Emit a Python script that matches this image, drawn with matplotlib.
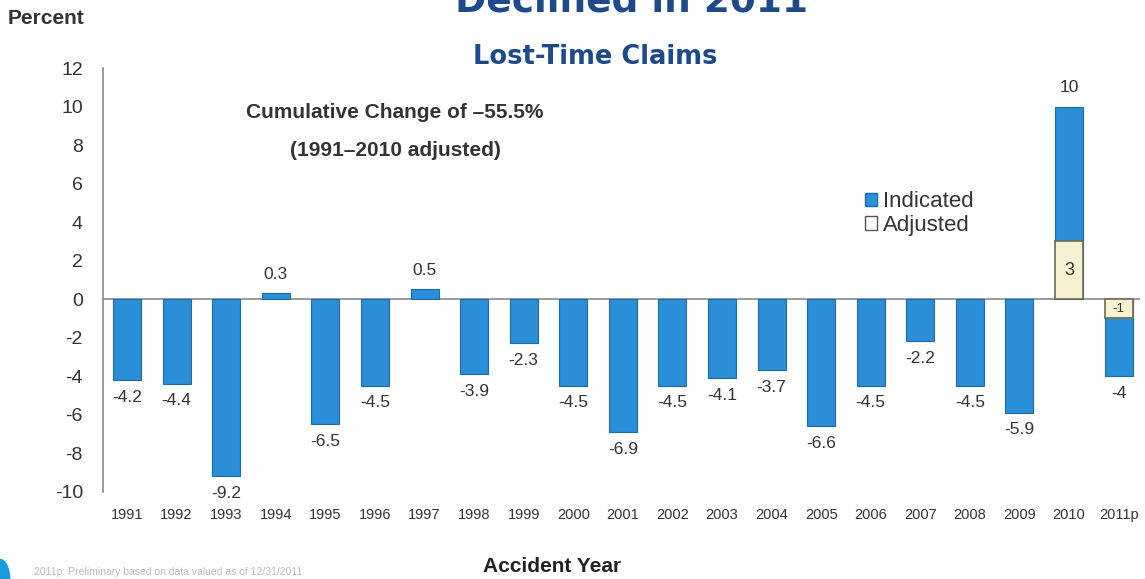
import numpy as np
import matplotlib.pyplot as plt
from matplotlib.patches import Patch, Ellipse

# data
years = ['1991', '1992', '1993', '1994', '1995', '1996', '1997', '1998', '1999', '2000',
         '2001', '2002', '2003', '2004', '2005', '2006', '2007', '2008', '2009', '2010', '2011p']
indicated = [-4.2, -4.4, -9.2, 0.3, -6.5, -4.5, 0.5, -3.9, -2.3, -4.5,
             -6.9, -4.5, -4.1, -3.7, -6.6, -4.5, -2.2, -4.5, -5.9, 10, -4]
adj_years = ['2010', '2011p']
adjusted = [3, -1]

blue = '#2a8fd6'
cream = '#f7f1cf'
navy = '#1f4a8a'
txt = '#333333'
arial = 'Liberation Sans'

fig = plt.figure(figsize=(11.45, 5.79), dpi=100)
ax = fig.add_axes([0.09, 0.151, 0.906, 0.7315])

x = np.arange(len(years))
ax.bar(x, indicated, width=0.565, color=blue, edgecolor='#1d6aa8', linewidth=0.8, zorder=2)
xa = [years.index(y) for y in adj_years]
ax.bar(xa, adjusted, width=0.565, color=cream, edgecolor='#6b6b5a', linewidth=1.2, zorder=3)

# value labels
for xi, v in zip(x, indicated):
    lab = '%g' % v
    if v >= 0:
        ax.annotate(lab, (xi, v), xytext=(0, 8), textcoords='offset points',
                    ha='center', va='bottom', fontsize=12.5, color=txt, family=arial)
    else:
        ax.annotate(lab, (xi, v), xytext=(0, -7), textcoords='offset points',
                    ha='center', va='top', fontsize=12.5, color=txt, family=arial)
for xi, v in zip(xa, adjusted):
    ax.text(xi, v / 2, '%g' % v, ha='center', va='center', fontsize=13 if v > 0 else 9.5,
            color=txt, zorder=4, family=arial)

ax.axhline(0, color='#8a8a8a', linewidth=1.2, zorder=1)
ax.set_ylim(-10, 12)
ax.set_xlim(-0.484, 20.44)
ax.set_yticks(range(-10, 13, 2))
ax.set_yticklabels([str(t) for t in range(-10, 13, 2)], family=arial)
ax.set_xticks(x)
ax.set_xticklabels(years, family=arial)
ax.tick_params(axis='y', length=0, pad=14.5, labelsize=14, labelcolor=txt)
ax.tick_params(axis='x', length=0, pad=12, labelsize=10.5, labelcolor=txt)
for s in ['top', 'right', 'bottom']:
    ax.spines[s].set_visible(False)
ax.spines['left'].set_color('#8a8a8a')
ax.spines['left'].set_linewidth(1.2)

ax.text(0.2816, 0.894, 'Cumulative Change of \u201355.5%', transform=ax.transAxes,
        ha='center', va='center', fontsize=15, fontweight='bold', color=txt, family=arial)
ax.text(0.2816, 0.806, '(1991\u20132010 adjusted)', transform=ax.transAxes,
        ha='center', va='center', fontsize=15, fontweight='bold', color=txt, family=arial)

handles = [Patch(facecolor=blue, edgecolor='#1d6aa8'), Patch(facecolor='white', edgecolor='#555555')]
ax.legend(handles, ['Indicated', 'Adjusted'], loc='upper left', bbox_to_anchor=(0.724, 0.735),
          frameon=False, borderpad=0, handlelength=0.55, handleheight=0.55,
          handletextpad=0.25, labelspacing=0.12, labelcolor=txt,
          prop={'family': arial, 'size': 16})

fig.text(0.552, 1 - 11 / 579, 'Declined in 2011', ha='center', va='baseline',
         fontsize=27, fontweight='bold', color=navy)
fig.text(0.52, 1 - 57 / 579, 'Lost-Time Claims', ha='center', va='center',
         fontsize=18.5, fontweight='bold', color=navy)
fig.text(0.007, 1 - 19 / 579, 'Percent', ha='left', va='center',
         fontsize=15, fontweight='bold', color=txt, family=arial)
fig.text(0.482, 1 - 567 / 579, 'Accident Year', ha='center', va='center',
         fontsize=15, fontweight='bold', color='#222222', family=arial)
fig.text(0.03, 0.004, '2011p: Preliminary based on data valued as of 12/31/2011',
         ha='left', va='bottom', fontsize=7.5, color='#bbbbbb', family=arial)

# slide decoration in the bottom-left corner
fig.patches.append(Ellipse((0.0, 0.0), 0.018, 0.07, transform=fig.transFigure,
                           facecolor='#1a9be0', edgecolor='none'))

fig.savefig('out.png', dpi=100)
